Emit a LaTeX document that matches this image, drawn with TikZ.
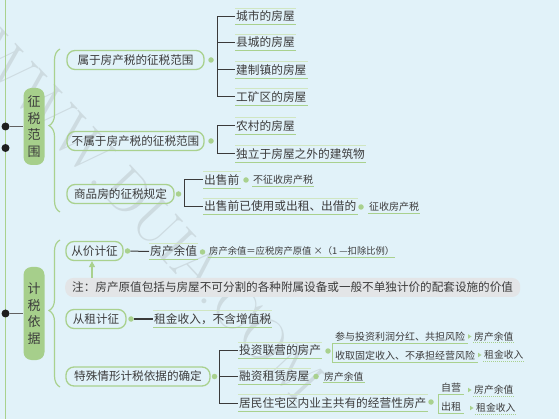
\documentclass[tikz,border=0pt]{standalone}
\usepackage{fontspec}
\newfontfamily\cjk{Noto Sans CJK SC}
\usetikzlibrary{decorations.pathreplacing,arrows.meta,calc}
\definecolor{bg}{HTML}{E1F2F9}
\definecolor{gr}{HTML}{A9D18E}
\definecolor{grf}{HTML}{A6CF8B}
\definecolor{txt}{HTML}{3C3C3C}
\definecolor{cn}{HTML}{3A3A3A}
\definecolor{notebg}{HTML}{E3E5E7}
\definecolor{dotk}{HTML}{1E1E1E}
\tikzset{
  fs/.style={font=\cjk\fontsize{#1}{#1}\selectfont},
  vnode/.style={fill=grf, rounded corners=8pt, minimum width=21pt, inner sep=0pt, align=center, text=txt, font=\cjk\fontsize{13}{16.5}\selectfont},
  l2/.style={draw=gr, line width=1.3pt, rounded corners=8pt, minimum height=19pt, inner sep=0pt, text=txt, fs=11.6},
  gdot/.style={circle, fill=gr, minimum size=5.5pt, inner sep=0pt},
  kdot/.style={circle, fill=dotk, minimum size=8pt, inner sep=0pt},
  leaf/.style={anchor=west, inner xsep=1pt, inner ysep=0pt, minimum height=16pt, text=txt, fs=11.7,
    append after command={(\tikzlastnode.south west) edge[draw=gr, line width=1pt] (\tikzlastnode.south east)
      (\tikzlastnode.north west) edge[draw=gr!55, line width=.8pt] (\tikzlastnode.north east)}},
  uleaf/.style={anchor=west, inner xsep=1pt, inner ysep=1.5pt, text=txt, fs=#1,
    append after command={(\tikzlastnode.south west) edge[draw=gr, line width=1pt] (\tikzlastnode.south east)}},
  dleaf/.style={anchor=west, inner xsep=1pt, inner ysep=1.5pt, text=txt, fs=9.8,
    append after command={(\tikzlastnode.south west) edge[draw=gr, line width=1pt, dash pattern=on 1pt off 1pt] (\tikzlastnode.south east)}},
  sitem/.style={anchor=south west, inner xsep=3pt, inner ysep=1.5pt, text=txt, fs=10,
    append after command={(\tikzlastnode.south west) edge[draw=gr, line width=1pt] (\tikzlastnode.south east)}},
  cn/.style={draw=cn, line width=1pt},
  gcn/.style={draw=gr, line width=1pt},
  brc/.style={draw=gr, line width=1.2pt, decorate, decoration={brace, amplitude=11pt, aspect=#1}},
}
\newcommand{\tri}[1]{\fill[gr] ($(#1.west)+(-1.5,0)$) -- ++(-3.5,2.3) -- ++(0,-4.6) -- cycle;}
\begin{document}
\begin{tikzpicture}[x=1pt,y=-1pt]
\fill[bg] (0,0) rectangle (559,419);
\useasboundingbox (0,0) rectangle (559,419);
% watermark
\node[rotate=-47, font=\fontsize{60}{60}\selectfont, text=gray, opacity=0.2] (wm) at (150,216) {WWW.DUIA.COM};
% main line
\draw[gr, line width=1.6pt] (5.5,0) -- (5.5,419);
\node[kdot] (k1) at (5.5,126.5) {};
\node[kdot] (k2) at (5.5,148) {};
\node[kdot] (k3) at (5.5,313.5) {};
\node[vnode, minimum height=77pt] (zs) at (34,126.5) {征\\税\\范\\围};
\node[vnode, minimum height=93pt] (js) at (34,313.5) {计\\税\\依\\据};
\draw[draw=cn!80, line width=1pt] (k1) -- (zs.west);
\draw[draw=cn!80, line width=1pt] (k3) -- (js.west);
\draw[brc=0.53] (60,212) -- (60,49);
\draw[brc=0.52] (60,387) -- (60,240);
% section 1
\node[l2, minimum width=137pt] (n1) at (135.5,60) {属于房产税的征税范围};
\node[l2, minimum width=137pt] (n2) at (135.5,141) {不属于房产税的征税范围};
\node[l2, minimum width=107pt] (n3) at (120.5,194) {商品房的征税规定};
\node[gdot] (d1) at (211,60) {};
\node[gdot] (d2) at (211,141) {};
\node[gdot] (d3) at (178.5,194) {};
\node[leaf] (a1) at (235,16.5) {城市的房屋};
\node[leaf] (a2) at (235,42.5) {县城的房屋};
\node[leaf] (a3) at (235,70) {建制镇的房屋};
\node[leaf] (a4) at (235,97) {工矿区的房屋};
\draw[cn] (a1.west) -- ++(-18,0) |- (a4.west);
\draw[cn] (a2.west) -- ++(-18,0);
\draw[cn] (a3.west) -- ++(-18,0);
\node[leaf] (b1) at (235,126) {农村的房屋};
\node[leaf] (b2) at (235,154) {独立于房屋之外的建筑物};
\draw[cn] (b1.west) -- ++(-18,0) |- (b2.west);
\node[leaf] (c1) at (203,180) {出售前};
\node[leaf] (c2) at (203,206.5) {出售前已使用或出租、出借的};
\draw[cn] (c1.west) -- ++(-19,0) |- (c2.west);
\node[gdot] (e1) at (246,180) {};
\node[uleaf=10] (f1) at (252,180) {不征收房产税};
\node[gdot] (e2) at (361,207) {};
\node[uleaf=10] (f2) at (368,207) {征收房产税};
% section 2
\node[l2, minimum width=57pt] (p1) at (94.5,251) {从价计征};
\node[l2, minimum width=60pt] (p2) at (96,319) {从租计征};
\node[l2, minimum width=144pt] (p3) at (138,376.5) {特殊情形计税依据的确定};
\node[anchor=west, fill=notebg, rounded corners=8pt, minimum height=19pt, text width=441pt, inner xsep=7pt, inner ysep=0pt, align=left, text=txt, fs=11.6] (note) at (65,287.5) {注：房产原值包括与房屋不可分割的各种附属设备或一般不单独计价的配套设施的价值};
\coordinate (ar) at (92,278);
\draw[gr, line width=1.3pt, -{Triangle[width=6pt,length=6pt]}] (ar) -- (ar |- p1.south);
\node[gdot] (g1) at (127.5,251) {};
\node[leaf] (q1) at (149,251.5) {房产余值};
\draw[cn] (g1) -- (q1.west);
\node[gdot] (g2) at (202.5,252) {};
\node[uleaf=9.3] (q2) at (208,251) {房产余值＝应税房产原值 ×（1 —扣除比例）};
\node[gdot] (g3) at (131,319) {};
\node[leaf] (r1) at (153,319) {租金收入，不含增值税};
\draw[cn] (g3) -- (r1.west);
\node[gdot] (g4) at (214.5,376.5) {};
\node[leaf] (t1) at (238,350.5) {投资联营的房产};
\node[leaf] (t2) at (238,376.5) {融资租赁房屋};
\node[leaf] (t3) at (238,403) {居民住宅区内业主共有的经营性房产};
\draw[cn] (t1.west) -- ++(-19,0) |- (t3.west);
\draw[cn] (t2.west) -- ++(-19,0);
% 投资联营
\node[gdot] (h1) at (328,351) {};
\node[sitem] (u1) at (332,343) {参与投资利润分红、共担风险};
\node[sitem] (u2) at (332,362) {收取固定收入、不承担经营风险};
\draw[gcn] (u1.south west) -- (u2.south west);
\node[dleaf] (v1) at (473,336.5) {房产余值};
\node[dleaf] (v2) at (483,355) {租金收入};
\tri{v1}
\tri{v2}
% 融资租赁
\node[gdot] (h2) at (316,376.5) {};
\node[uleaf=9.8] (w1) at (323,376.5) {房产余值};
% 居民
\node[gdot] (h3) at (431,402) {};
\node[sitem] (x1) at (438,394.5) {自营};
\node[sitem] (x2) at (438,413) {出租};
\draw[gcn] (x1.south west) -- (x2.south west);
\node[dleaf] (y1) at (473,390) {房产余值};
\node[dleaf] (y2) at (475,408) {租金收入};
\tri{y1}
\tri{y2}
\end{tikzpicture}
\end{document}
